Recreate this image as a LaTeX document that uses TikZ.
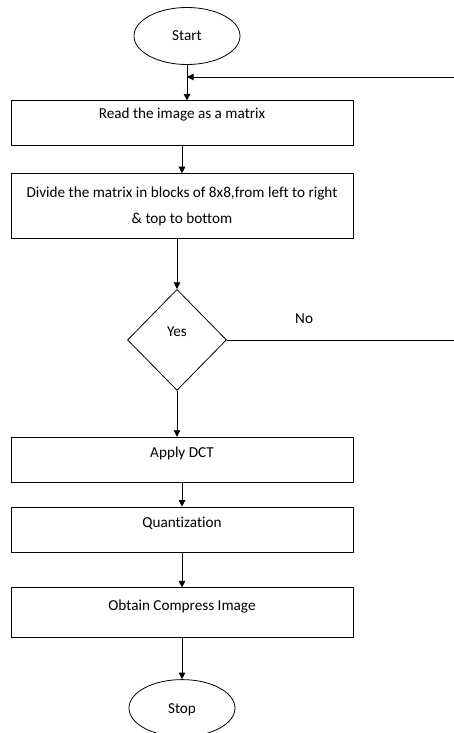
\documentclass[tikz,border=0pt]{standalone}
\usepackage{fontspec}
\setmainfont{Carlito}[Ligatures=NoCommon]
\usetikzlibrary{shapes.geometric, arrows.meta, positioning, calc}

\begin{document}
\begin{tikzpicture}[
    font=\fontsize{15.2}{26}\selectfont,
    line width=0.8pt,
    box/.style={rectangle, draw, minimum width=342pt, minimum height=45pt, inner sep=0pt, align=center, text height=10pt, text depth=14pt},
    terminal/.style={ellipse, draw, minimum width=106pt, minimum height=57pt, inner sep=0pt, text height=10pt, text depth=1pt},
    decision/.style={diamond, draw, minimum width=99pt, minimum height=101pt, inner sep=0pt, text height=10pt, text depth=17pt},
    arrow/.style={-{Triangle[length=6.5pt, width=6.5pt]}}
]
\useasboundingbox (0,0) rectangle (454pt,-733pt);

% Flow
\node[terminal] (start) at (187pt,-36pt) {Start};
\node[box, below=35.5pt of start, xshift=-5pt, text depth=20pt] (read) {Read the image as a matrix};
\node[box, below=27pt of read, minimum height=65pt, text height=, text depth=] (divide) {Divide the matrix in blocks of 8x8,from left to right\\\& top to bottom};
\node[decision, below=50pt of divide, xshift=-5pt] (check) {Yes};
\node[box, below=46pt of check, xshift=5pt] (dct) {Apply DCT};
\node[box, below=24pt of dct] (quant) {Quantization};
\node[box, below=35pt of quant, minimum height=50pt, text depth=15pt] (obtain) {Obtain Compress Image};
\node[terminal, below=41pt of obtain, text depth=0pt] (stop) {Stop};

% Loop ends at the right border
\coordinate (noend) at (454pt,-335pt);
\coordinate (backin) at (454pt,-77pt);

% Arrows
\draw[arrow] (start.south) -- (start.south |- read.north);
\draw[arrow] (read) -- (divide);
\draw[arrow] (divide.south -| check.north) -- (check);
\draw[arrow] (check) -- (check.south |- dct.north);
\draw[arrow] (dct) -- (quant);
\draw[arrow] (quant) -- (obtain);
\draw[arrow] (obtain) -- (stop);
\draw (check.east) -- (check.east -| noend) node[pos=0.34, above=13pt] {No};
\draw[arrow] (backin) -- (backin -| start.south);

\end{tikzpicture}
\end{document}
